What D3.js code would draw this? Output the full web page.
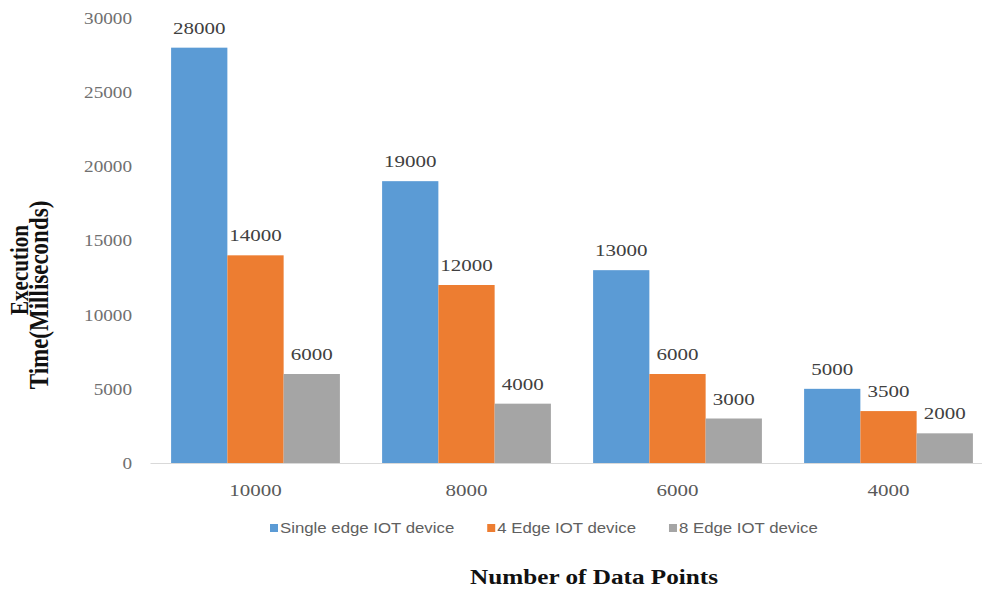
<!DOCTYPE html>
<html>
<head>
<meta charset="utf-8">
<script src="https://cdn.jsdelivr.net/npm/d3@7"></script>
<style>
  html, body { margin: 0; padding: 0; background: #ffffff; }
  svg { display: block; }
</style>
</head>
<body>
<svg id="chart" width="982" height="590"></svg>
<script>
// Execution time per number of data points, for three edge IoT setups
const categories = ["10000", "8000", "6000", "4000"];
const seriesNames = ["Single edge IOT device", "4 Edge IOT device", "8 Edge IOT device"];
const singleEdge = [28000, 19000, 13000, 5000];
const fourEdge = [14000, 12000, 6000, 3500];
const eightEdge = [6000, 4000, 3000, 2000];
const yTicks = [0, 5000, 10000, 15000, 20000, 25000, 30000];
const seriesColors = ["#5b9bd5", "#ed7d31", "#a5a5a5"];

const seriesValues = [singleEdge, fourEdge, eightEdge];
const rows = categories.map((c, i) => ({
  category: c,
  values: seriesNames.map((s, k) => ({ series: s, value: seriesValues[k][i], color: seriesColors[k] }))
}));

const svg = d3.select("#chart");
const SX = 1.2; // horizontal stretch applied to the lettering
const serif = "'Liberation Serif', 'Times New Roman', serif";
const sans = "'Liberation Sans', Arial, sans-serif";

const x0 = d3.scaleBand().domain(categories).range([150, 994]).paddingInner(0.2).paddingOuter(0.1);
const x1 = d3.scaleBand().domain(seriesNames).range([0, x0.bandwidth()]).padding(0);
const y = d3.scaleLinear().domain([0, 30000]).range([463, 18]);

// stretched text helper
function stretched(sel, x, yy) {
  return sel.attr("transform", `translate(${x},${yy}) scale(${SX},1)`);
}

// y tick labels (no axis line, no gridlines)
const yAxis = d3.axisLeft(y).tickValues(yTicks).tickSize(0).tickPadding(0).tickFormat(d3.format("d"));
const gy = svg.append("g").call(yAxis);
gy.select(".domain").remove();
gy.selectAll(".tick text")
  .attr("x", null).attr("dy", null)
  .attr("text-anchor", "end")
  .attr("font-family", serif)
  .attr("font-size", 16)
  .attr("fill", "#707070")
  .attr("dominant-baseline", "central")
  .attr("transform", `translate(132,0) scale(${SX},1)`);

// bars
const groups = svg.append("g").selectAll("g")
  .data(rows).join("g")
  .attr("transform", d => `translate(${x0(d.category)},0)`);

groups.selectAll("rect")
  .data(d => d.values).join("rect")
  .attr("x", d => x1(d.series))
  .attr("y", d => y(d.value))
  .attr("width", x1.bandwidth())
  .attr("height", d => y(0) - y(d.value))
  .attr("fill", d => d.color);

// value labels
groups.selectAll("text.val")
  .data(d => d.values).join("text")
  .attr("class", "val")
  .attr("text-anchor", "middle")
  .attr("font-family", serif)
  .attr("font-size", 17.5)
  .attr("fill", "#404040")
  .text(d => d.value)
  .each(function (d) {
    stretched(d3.select(this), x1(d.series) + x1.bandwidth() / 2, y(d.value) - 14);
  });

// x axis
const xAxis = d3.axisBottom(x0).tickSize(0).tickPadding(0);
const gx = svg.append("g").attr("transform", `translate(0,${y(0)})`).call(xAxis);
gx.select(".domain").attr("stroke", "#d9d9d9").attr("stroke-width", 1.2);
gx.selectAll(".tick text")
  .attr("y", null).attr("dy", null)
  .attr("font-family", serif)
  .attr("font-size", 17.5)
  .attr("fill", "#595959")
  .attr("text-anchor", "middle")
  .attr("transform", `translate(0,33) scale(${SX},1)`);

// legend
const legend = svg.append("g");
let lx = 270;
const ly = 528;
seriesNames.forEach((name, k) => {
  legend.append("rect")
    .attr("x", lx).attr("y", ly - 4)
    .attr("width", 8).attr("height", 8)
    .attr("fill", seriesColors[k]);
  const t = legend.append("text")
    .attr("font-family", sans)
    .attr("font-size", 14)
    .attr("fill", "#606060")
    .attr("dominant-baseline", "central")
    .text(name);
  stretched(t, lx + 10, ly);
  const w = t.node().getComputedTextLength() * SX;
  lx += 10 + w + 33;
});

// axis titles
const xt = svg.append("text")
  .attr("text-anchor", "middle")
  .attr("font-family", serif)
  .attr("font-weight", "bold")
  .attr("font-size", 21)
  .attr("fill", "#111111")
  .text("Number of Data Points");
stretched(xt, 594, 584);

svg.append("text")
  .attr("text-anchor", "middle")
  .attr("font-family", serif)
  .attr("font-weight", "bold")
  .attr("font-size", 21)
  .attr("fill", "#111111")
  .attr("transform", `translate(28,270) scale(${SX},1) rotate(-90)`)
  .text("Execution");

svg.append("text")
  .attr("text-anchor", "middle")
  .attr("font-family", serif)
  .attr("font-weight", "bold")
  .attr("font-size", 23)
  .attr("fill", "#111111")
  .attr("transform", `translate(48,295) scale(${SX},1) rotate(-90)`)
  .text("Time(Milliseconds)");
</script>
</body>
</html>
